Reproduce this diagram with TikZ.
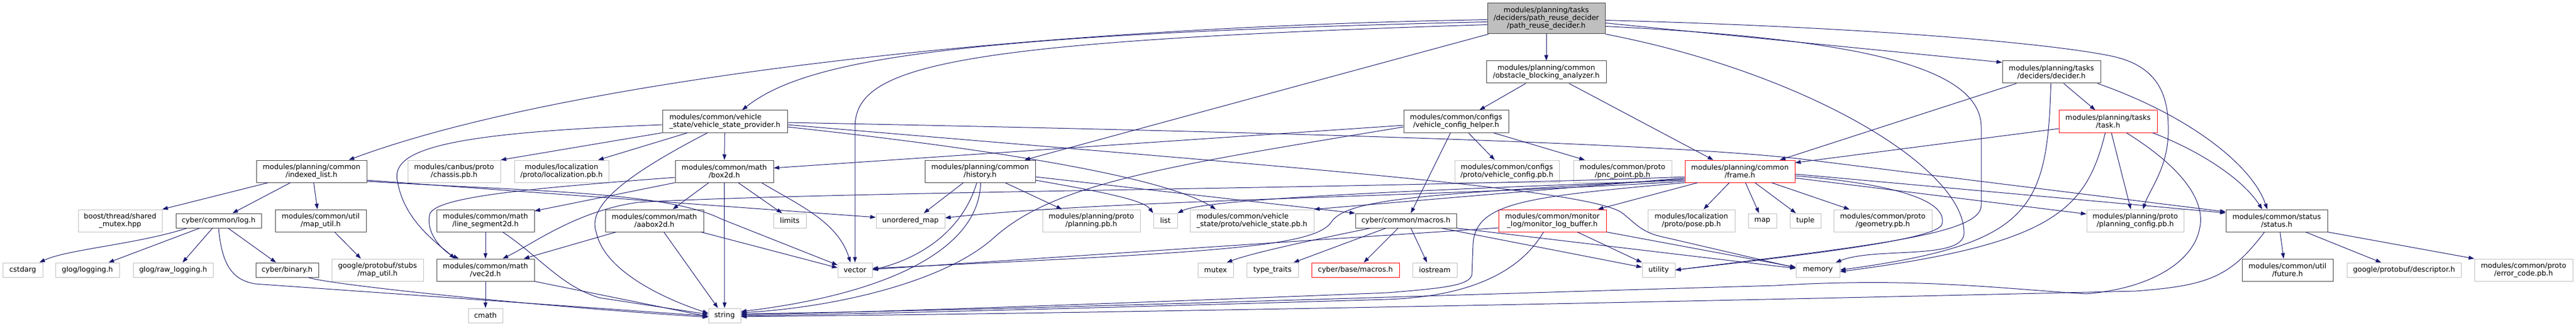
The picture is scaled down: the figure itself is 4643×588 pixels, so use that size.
\documentclass[tikz,border=0pt]{standalone}
\usepackage{fontspec}
\newfontfamily\dejavu{DejaVu Sans}
\usetikzlibrary{arrows.meta,calc}
\definecolor{edgeblue}{HTML}{191970}
\definecolor{incgrey}{HTML}{404040}
\definecolor{sysgrey}{HTML}{BFBFBF}
\tikzset{
  incfile/.style={draw=incgrey, fill=white, line width=1pt, font=\dejavu\fontsize{12.9}{14}\selectfont,
    align=center, inner sep=3pt, minimum height=26},
  twoline/.style={minimum height=40},
  sysfile/.style={incfile, draw=sysgrey},
  cutfile/.style={incfile, draw=red},
  rootfile/.style={incfile, fill=sysgrey, minimum height=55},
  dep/.style={draw=edgeblue, line width=1pt, -{Triangle[length=10pt,width=7pt]}}
}
\begin{document}
\begin{tikzpicture}[x=1pt,y=-1pt]
      \useasboundingbox (0,0) rectangle (4643,588);
      \node[rootfile,minimum width=212] (root) at (2787,33.5) {modules/planning/tasks\\/deciders/path\_reuse\_decider\\/path\_reuse\_decider.h};
      \node[incfile,twoline,minimum width=216] (oba) at (2787,130) {modules/planning/common\\/obstacle\_blocking\_analyzer.h};
      \node[incfile,twoline,minimum width=177] (decider) at (3697.5,130) {modules/planning/tasks\\/deciders/decider.h};
      \node[incfile,twoline,align=left,minimum width=225] (vsp) at (1306.5,219) {modules/common/vehicle\\\_state/vehicle\_state\_provider.h};
      \node[incfile,twoline,minimum width=189] (vch) at (2624.5,219) {modules/common/configs\\/vehicle\_config\_helper.h};
      \node[cutfile,twoline,minimum width=177] (task) at (3799.5,219) {modules/planning/tasks\\/task.h};
      \node[incfile,twoline,minimum width=199] (idxlist) at (561.5,309) {modules/planning/common\\/indexed\_list.h};
      \node[sysfile,twoline,minimum width=167] (chassis) at (818.5,309) {modules/canbus/proto\\/chassis.pb.h};
      \node[sysfile,twoline,minimum width=170] (locpb) at (1012,309) {modules/localization\\/proto/localization.pb.h};
      \node[incfile,twoline,minimum width=177] (box) at (1305.5,309) {modules/common/math\\/box2d.h};
      \node[incfile,twoline,minimum width=199] (history) at (1766.5,309) {modules/planning/common\\/history.h};
      \node[sysfile,twoline,minimum width=188] (vcfgpb) at (2716,309) {modules/common/configs\\/proto/vehicle\_config.pb.h};
      \node[sysfile,twoline,minimum width=177] (pncpb) at (2924.5,309) {modules/common/proto\\/pnc\_point.pb.h};
      \node[cutfile,twoline,minimum width=198] (frame) at (3136,309) {modules/planning/common\\/frame.h};
      \node[sysfile,twoline,minimum width=151] (sharedmutex) at (216.5,398) {boost/thread/shared\\\_mutex.hpp};
      \node[incfile,minimum width=154] (cyberlog) at (394,398) {cyber/common/log.h};
      \node[incfile,twoline,minimum width=164] (maputil) at (578,398) {modules/common/util\\/map\_util.h};
      \node[incfile,twoline,minimum width=176] (lineseg) at (875,398) {modules/common/math\\/line\_segment2d.h};
      \node[incfile,twoline,minimum width=177] (aabox) at (1179.5,398) {modules/common/math\\/aabox2d.h};
      \node[sysfile,minimum width=59] (limits) at (1423.5,398) {limits};
      \node[sysfile,minimum width=124] (umap) at (1641,398) {unordered\_map};
      \node[sysfile,twoline,minimum width=176] (planpb) at (1967,398) {modules/planning/proto\\/planning.pb.h};
      \node[sysfile,minimum width=43] (list) at (2100.5,398) {list};
      \node[sysfile,twoline,align=left,minimum width=223] (vstatepb) at (2256.5,398) {modules/common/vehicle\\\_state/proto/vehicle\_state.pb.h};
      \node[incfile,minimum width=182] (cmacros) at (2534,398) {cyber/common/macros.h};
      \node[cutfile,twoline,minimum width=194] (monlog) at (2798,398) {modules/common/monitor\\\_log/monitor\_log\_buffer.h};
      \node[sysfile,twoline,minimum width=157] (posepb) at (3048.5,398) {modules/localization\\/proto/pose.pb.h};
      \node[sysfile,minimum width=51] (map) at (3176.5,398) {map};
      \node[sysfile,minimum width=56] (tuple) at (3254,398) {tuple};
      \node[sysfile,twoline,minimum width=177] (geompb) at (3393.5,398) {modules/common/proto\\/geometry.pb.h};
      \node[sysfile,twoline,minimum width=175] (plancfgpb) at (3848.5,398) {modules/planning/proto\\/planning\_config.pb.h};
      \node[incfile,twoline,minimum width=183] (status) at (4103.5,398) {modules/common/status\\/status.h};
      \node[sysfile,minimum width=72] (cstdarg) at (41,487) {cstdarg};
      \node[sysfile,minimum width=115] (glog) at (157.5,487) {glog/logging.h};
      \node[sysfile,minimum width=144] (rawlog) at (312,487) {glog/raw\_logging.h};
      \node[incfile,minimum width=113] (binary) at (517.5,487) {cyber/binary.h};
      \node[sysfile,twoline,minimum width=165] (pbmaputil) at (680.5,487) {google/protobuf/stubs\\/map\_util.h};
      \node[incfile,twoline,minimum width=176] (vec) at (875,487) {modules/common/math\\/vec2d.h};
      \node[sysfile,minimum width=62] (vector) at (1541,487) {vector};
      \node[sysfile,minimum width=64] (mutex) at (2191,487) {mutex};
      \node[sysfile,minimum width=93] (typetraits) at (2293.5,487) {type\_traits};
      \node[cutfile,minimum width=158] (bmacros) at (2443,487) {cyber/base/macros.h};
      \node[sysfile,minimum width=80] (iostream) at (2586,487) {iostream};
      \node[sysfile,minimum width=59] (utility) at (2989.5,487) {utility};
      \node[sysfile,minimum width=79] (memory) at (3276.5,487) {memory};
      \node[incfile,twoline,minimum width=164] (future) at (4123,487) {modules/common/util\\/future.h};
      \node[sysfile,minimum width=206] (descriptor) at (4333,487) {google/protobuf/descriptor.h};
      \node[sysfile,twoline,minimum width=177] (errcode) at (4548.5,487) {modules/common/proto\\/error\_code.pb.h};
      \node[sysfile,minimum width=62] (cmath) at (875,569) {cmath};
      \node[sysfile,minimum width=58] (string) at (1306,569) {string};

      \draw[dep] (root) -- (oba);
      \draw[dep] ($(root.west)+(0,2)$) .. controls (1800,50) and (1000,150) .. ([xshift=67]idxlist.north);
      \draw[dep] ($(root.west)+(0,6)$) .. controls (1700,62) and (1450,110) .. ([xshift=31]vsp.north);
      \draw[dep] ($(root.west)+(0,11)$) .. controls (1700,75) and (1541,120) .. (1541,230) -- (vector);
      \draw[dep] ([xshift=-104]root.south) -- ([xshift=80]history.north);
      \draw[dep] ($(root.east)+(0,8)$) -- ($(decider.north west)+(0,3)$);
      \draw[dep] ($(root.east)+(0,3)$) .. controls (3400,50) and (3700,80) .. (3800,100) .. controls (3880,115) and (3908,160) .. (3908,230) .. controls (3910,300) and (3875,340) .. ([xshift=14]plancfgpb.north);
      \draw[dep] ($(root.east)+(0,14)$) .. controls (3350,70) and (3571,120) .. (3571,230) -- (3571,370) .. controls (3571,420) and (3400,440) .. (utility.east);
      \draw[dep] (root.south east) .. controls (3250,130) and (3540,300) .. (3540,420) .. controls (3540,470) and (3380,445) .. ([xshift=-8]memory.north east);

      \draw[dep] ([xshift=-37]oba.south) -- ([xshift=42]vch.north);
      \draw[dep] ([xshift=41]oba.south) -- ([xshift=-48]frame.north);

      \draw[dep] ([xshift=-63]decider.south) -- ([xshift=72]frame.north);
      \draw[dep] ([xshift=-1]decider.south) .. controls (3690,380) and (3660,440) .. (memory.east);
      \draw[dep] ([xshift=22]decider.south) -- ([xshift=-23]task.north);
      \draw[dep] ([xshift=-6]decider.south east) .. controls (3950,210) and (4060,300) .. ([xshift=-17]status.north);

      \draw[dep] ($(task.west)+(0,13)$) -- ($(frame.north east)+(0,5)$);
      \draw[dep] ([xshift=-5]task.south) .. controls (3760,380) and (3700,440) .. ($(memory.east)+(0,3)$);
      \draw[dep] ([xshift=6]task.south) -- ([xshift=-8]plancfgpb.north);
      \draw[dep] ([xshift=33]task.south) .. controls (3930,300) and (3975,360) .. (3965,410) .. controls (3955,470) and (3880,520) .. (3760,530) .. controls (3600,520) and (3450,500) .. (3200,515) .. controls (2500,535) and (1800,560) .. ($(string.east)+(0,-3)$);
      \draw[dep] ([xshift=80]task.south) .. controls (3960,270) and (4040,320) .. ([xshift=-26]status.north);

      \draw[dep] (vsp.south west) -- (chassis.north east);
      \draw[dep] ([xshift=-67]vsp.south) -- ([xshift=66]locpb.north);
      \draw[dep] ($(vsp.west)+(0,6)$) .. controls (800,240) and (700,270) .. (717,330) .. controls (730,400) and (790,440) .. ([xshift=-55]vec.north);
      \draw[dep] (vsp) -- (box);
      \draw[dep] ([xshift=-31]vsp.south) .. controls (1100,330) and (1060,380) .. (1075,420) .. controls (1090,490) and (1200,540) .. ($(string.west)+(0,-4)$);
      \draw[dep] ($(vsp.east)+(0,2)$) .. controls (2400,240) and (3000,260) .. (3240,286) -- ($(status.west)+(0,-16)$);
      \draw[dep] ($(vsp.east)+(0,6)$) .. controls (2300,300) and (2870,340) .. (2925,385) .. controls (2950,405) and (2960,420) .. (3000,428) -- ($(memory.west)+(0,-4)$);
      \draw[dep] ($(vsp.east)+(0,10)$) .. controls (1800,270) and (2100,320) .. ([xshift=-65]vstatepb.north);

      \draw[dep] ($(vch.west)+(0,7)$) -- ($(box.east)+(0,-6)$);
      \draw[dep] ($(vch.west)+(0,10)$) .. controls (2100,300) and (1900,330) .. (1790,430) .. controls (1700,510) and (1500,555) .. ($(string.east)+(0,-5)$);
      \draw[dep] ([xshift=-10]vch.south) -- ([xshift=9]cmacros.north);
      \draw[dep] ([xshift=22]vch.south) -- ([xshift=-22]vcfgpb.north);
      \draw[dep] ([xshift=67]vch.south) -- ([xshift=-68]pncpb.north);

      \draw[dep] ([xshift=-78]idxlist.south) -- (sharedmutex.north east);
      \draw[dep] ([xshift=-38]idxlist.south) -- ([xshift=25]cyberlog.north);
      \draw[dep] ([xshift=4]idxlist.south) -- ([xshift=-6]maputil.north);
      \draw[dep] ($(idxlist.east)+(0,16)$) -- ($(umap.west)+(0,-6)$);
      \draw[dep] ($(idxlist.east)+(0,18)$) .. controls (950,345) and (1200,345) .. (1300,395) -- ($(vector.west)+(0,-9)$);

      \draw[dep] ([xshift=-57]cyberlog.south) .. controls (250,440) and (120,450) .. ([xshift=30]cstdarg.north);
      \draw[dep] ([xshift=-34]cyberlog.south) -- ([xshift=38]glog.north);
      \draw[dep] ([xshift=-11]cyberlog.south) -- ([xshift=17]rawlog.north);
      \draw[dep] ([xshift=17]cyberlog.south) -- ([xshift=-20]binary.north);
      \draw[dep] (cyberlog.south) .. controls (400,480) and (420,505) .. (460,512) -- ($(string.west)+(0,1)$);
      \draw[dep] ([xshift=38]binary.south) .. controls (600,515) and (1000,555) .. ($(string.west)+(0,3)$);
      \draw[dep] ([xshift=25]maputil.south) -- ([xshift=-30]pbmaputil.north);

      \draw[dep] (box.south west) -- ($(lineseg.north east)+(0,3)$);
      \draw[dep] ($(box.west)+(0,11)$) .. controls (950,340) and (790,355) .. (775,385) .. controls (765,420) and (800,455) .. ([xshift=-48]vec.north);
      \draw[dep] ([xshift=-28]box.south) -- ([xshift=33]aabox.north);
      \draw[dep] (box) -- (string);
      \draw[dep] ([xshift=25]box.south) -- ([xshift=-14]limits.north);
      \draw[dep] ([xshift=67]box.south) .. controls (1440,370) and (1510,400) .. ([xshift=-8]vector.north);

      \draw[dep] ([xshift=-30]history.south) -- ([xshift=24]umap.north);
      \draw[dep] ([xshift=-6]history.south) .. controls (1740,400) and (1680,460) .. (vector.east);
      \draw[dep] ([xshift=1]history.south) .. controls (1765,450) and (1600,530) .. ($(string.east)+(0,-7)$);
      \draw[dep] ([xshift=45]history.south) -- ([xshift=-53]planpb.north);
      \draw[dep] ($(history.east)+(0,16)$) .. controls (1980,345) and (2060,360) .. (list.north west);
      \draw[dep] ($(history.east)+(0,10)$) -- (cmacros.north west);

      \draw[dep] ($(frame.west)+(0,10)$) .. controls (2500,340) and (1500,345) .. (1150,365) .. controls (1040,380) and (960,440) .. ([xshift=31]vec.north);
      \draw[dep] ($(frame.west)+(0,12)$) -- (vstatepb.north east);
      \draw[dep] ($(frame.west)+(0,14)$) .. controls (2600,350) and (2430,355) .. (2400,400) .. controls (2370,445) and (2200,455) .. ($(vector.east)+(0,-3)$);
      \draw[dep] ($(frame.west)+(0,16)$) .. controls (2500,345) and (2170,360) .. (list.north east);
      \draw[dep] ($(frame.west)+(0,18)$) .. controls (2600,355) and (2000,360) .. ($(umap.east)+(0,-5)$);
      \draw[dep] (frame.south west) .. controls (2750,355) and (2660,365) .. (2655,440) -- (2653,495) .. controls (2650,515) and (2600,520) .. (2500,528) .. controls (2000,548) and (1600,562) .. ($(string.east)+(0,-1)$);
      \draw[dep] ([xshift=-76]frame.south) -- ([xshift=82]monlog.north);
      \draw[dep] ([xshift=-19]frame.south) -- ([xshift=22]posepb.north);
      \draw[dep] ([xshift=10]frame.south) -- ([xshift=-6]map.north);
      \draw[dep] ([xshift=27]frame.south) -- ([xshift=-17]tuple.north);
      \draw[dep] ([xshift=57]frame.south) -- ([xshift=-60]geompb.north);
      \draw[dep] ($(frame.east)+(0,5)$) -- ($(status.west)+(0,-14)$);
      \draw[dep] ($(frame.east)+(0,8)$) .. controls (3450,335) and (3510,370) .. (3500,405) .. controls (3490,430) and (3300,455) .. (utility.east);
      \draw[dep] ($(frame.east)+(0,12)$) -- ($(plancfgpb.west)+(0,-12)$);

      \draw[dep] ([xshift=-64]cmacros.south) .. controls (2380,430) and (2260,455) .. ([xshift=20]mutex.north);
      \draw[dep] ([xshift=-36]cmacros.south) -- ([xshift=38]typetraits.north);
      \draw[dep] ([xshift=-14]cmacros.south) -- ([xshift=15]bmacros.north);
      \draw[dep] ([xshift=9]cmacros.south) -- ([xshift=-14]iostream.north);
      \draw[dep] ([xshift=64]cmacros.south) -- ($(utility.west)+(0,-5)$);
      \draw[dep] (cmacros.south east) -- ($(memory.west)+(0,-3)$);

      \draw[dep] ([xshift=45]monlog.south) -- (utility.north west);
      \draw[dep] (monlog.south east) -- ($(memory.west)+(0,-5)$);
      \draw[dep] ($(monlog.west)+(0,13)$) -- ($(vector.east)+(0,-1)$);
      \draw[dep] ([xshift=-16]monlog.south) .. controls (2740,490) and (2650,535) .. (2500,540) .. controls (2000,555) and (1600,565) .. ($(string.east)+(0,1)$);

      \draw[dep] ([xshift=6]status.south) -- ([xshift=-7]future.north);
      \draw[dep] ([xshift=52]status.south) -- ([xshift=-41]descriptor.north);
      \draw[dep] (status.south east) -- (errcode.north west);
      \draw[dep] ([xshift=-22]status.south) .. controls (4020,500) and (3980,515) .. (3850,525) .. controls (3000,545) and (2000,565) .. ($(string.east)+(0,2)$);

      \draw[dep] ([xshift=-69]aabox.south) -- ([xshift=69]vec.north);
      \draw[dep] ([xshift=17]aabox.south) -- ([xshift=-12]string.north);
      \draw[dep] ($(aabox.south east)+(-5,0)$) -- ($(vector.west)+(0,-4)$);
      \draw[dep] (lineseg) -- (vec);
      \draw[dep] ([xshift=31]lineseg.south) .. controls (975,465) and (1010,515) .. (1080,537) -- ($(string.west)+(0,-2)$);
      \draw[dep] (vec) -- (cmath);
      \draw[dep] (vec.south east) -- ($(string.west)+(0,2)$);
\end{tikzpicture}
\end{document}
